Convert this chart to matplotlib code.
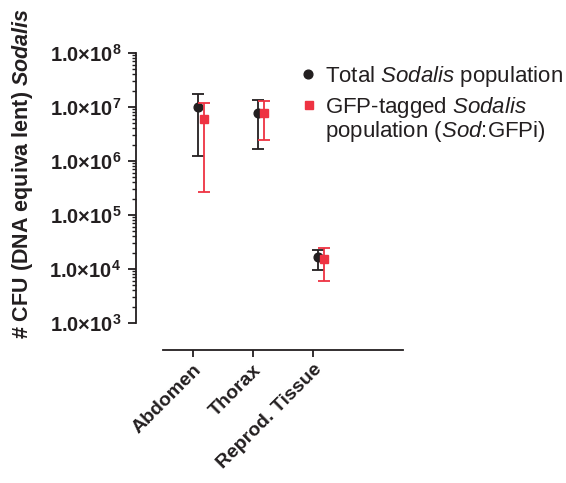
import numpy as np
import matplotlib
matplotlib.use("Agg")
import matplotlib.pyplot as plt
from matplotlib.lines import Line2D
from matplotlib.ticker import LogLocator, FixedLocator

plt.rcParams['font.family'] = ['Liberation Sans', 'DejaVu Sans']
plt.rcParams['mathtext.fontset'] = 'custom'
plt.rcParams['mathtext.it'] = 'Liberation Sans:italic'
plt.rcParams['mathtext.bf'] = 'Liberation Sans:bold:italic'
plt.rcParams['mathtext.rm'] = 'Liberation Sans:bold'

tissues = ["Abdomen", "Thorax", "Reprod. Tissue"]
total_mean = [9.8e6, 7.6e6, 1.65e4]
total_low = [1.24e6, 1.67e6, 9.6e3]
total_high = [1.76e7, 1.37e7, 2.25e4]
gfp_mean = [6.0e6, 7.8e6, 1.51e4]
gfp_low = [2.67e5, 2.45e6, 6.1e3]
gfp_high = [1.17e7, 1.31e7, 2.42e4]

black = "#231f20"
red = "#ee3342"

fig = plt.figure(figsize=(5.66, 4.83), dpi=100)
ax = fig.add_axes([163 / 566, 1 - 323 / 483, 240 / 566, 270 / 483])

# prism style detached axes (set before ticks, it resets them)
for side in ['top', 'right']:
    ax.spines[side].set_visible(False)
ax.spines['left'].set_position(('outward', 19.5))
ax.spines['bottom'].set_position(('outward', 19.5))
for side in ['left', 'bottom']:
    ax.spines[side].set_linewidth(1.3)
    ax.spines[side].set_color(black)

x = np.arange(len(tissues))
tm = np.array(total_mean)
gm = np.array(gfp_mean)
ax.errorbar(x + 0.09, tm, yerr=[tm - np.array(total_low), np.array(total_high) - tm],
            fmt='o', color=black, ms=6.3, capsize=4, elinewidth=1.3, capthick=1.3, zorder=3)
ax.errorbar(x + 0.19, gm, yerr=[gm - np.array(gfp_low), np.array(gfp_high) - gm],
            fmt='s', color=red, ms=6.0, capsize=4, elinewidth=1.3, capthick=1.3, zorder=4)

ax.set_yscale('log')
ax.set_ylim(1e3, 1e8)
ax.set_xlim(-0.5, 3.5)

ax.yaxis.set_major_locator(FixedLocator([1e3, 1e4, 1e5, 1e6, 1e7, 1e8]))
ax.yaxis.set_minor_locator(LogLocator(base=10, subs=np.arange(2, 10)))
ax.set_yticklabels([r"1.0×10$^{%d}$" % e for e in range(3, 9)], fontsize=14.5,
                   fontweight='bold', color=black)
ax.set_xticks(x)
ax.set_xticklabels(tissues, rotation=45, ha='right', rotation_mode='anchor',
                   fontsize=14, fontweight='bold', color=black)

ax.tick_params(axis='y', which='major', length=6, width=1.3, color=black, pad=4.5)
ax.tick_params(axis='y', which='minor', length=3, width=1.0, color=black)
ax.tick_params(axis='x', which='major', length=5, width=1.3, color=black, pad=3)

fig.text(23 / 566, 1 - 174 / 483, r"# CFU (DNA equiva lent) $\mathbf{Sodalis}$",
         rotation=90, ha='center', va='center', fontsize=15.5, fontweight='bold', color=black)

# legend
fig.add_artist(Line2D([308 / 566], [1 - 74 / 483], marker='o', ms=6.3, color=black,
                      transform=fig.transFigure))
fig.add_artist(Line2D([309 / 566], [1 - 105 / 483], marker='s', ms=6.0, color=red,
                      transform=fig.transFigure))
fig.text(325 / 566, 1 - 82 / 483, r"Total $Sodalis$ population", fontsize=16,
         color=black, va='baseline')
fig.text(325 / 566, 1 - 113 / 483, r"GFP-tagged $Sodalis$", fontsize=16,
         color=black, va='baseline')
fig.text(325 / 566, 1 - 137 / 483, r"population ($Sod$:GFPi)", fontsize=16,
         color=black, va='baseline')

fig.savefig("out.png", dpi=100)
